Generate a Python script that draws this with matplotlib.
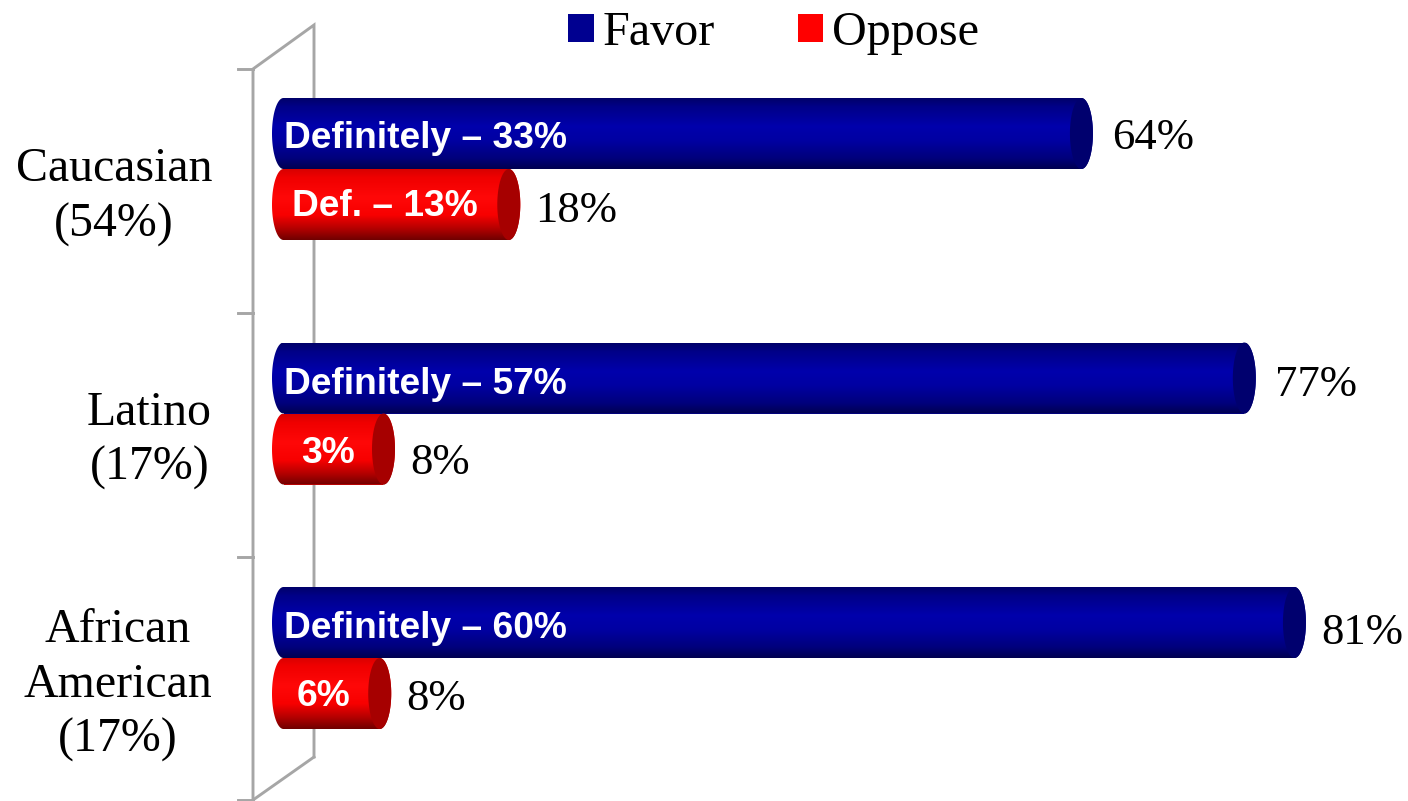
import numpy as np
import matplotlib
matplotlib.use("Agg")
import matplotlib.pyplot as plt
from matplotlib.patches import Patch, PathPatch
from matplotlib.path import Path
from matplotlib.colors import LinearSegmentedColormap
from matplotlib.transforms import IdentityTransform

categories = ["Caucasian\n(54%)", "Latino\n(17%)", "African\nAmerican\n(17%)"]
favor = [64.0, 77.0, 81.0]
oppose = [18.3, 8.3, 8.0]
favor_labels = ["64%", "77%", "81%"]
oppose_labels = ["18%", "8%", "8%"]
favor_inner = ["Definitely – 33%", "Definitely – 57%", "Definitely – 60%"]
oppose_inner = ["Def. – 13%", "3%", "6%"]
series_names = ["Favor", "Oppose"]

W, H = 1408, 801
PX_PER_UNIT = 12.53
X0_PX = 291.0
Y0_PX = 169.0
Y_STEP = 244.5
BAR_H = 71 / Y_STEP
CAP = 11.5 / PX_PER_UNIT
LEFT_OUT = (272 - X0_PX) / PX_PER_UNIT

SERIF = "Liberation Serif"
SANS = "Liberation Sans"
FS_SERIF = 32.2
FS_CAT = 34.5
FS_LEGEND = 34.7
FS_SANS = 26.75

fig = plt.figure(figsize=(W / 100, H / 100), dpi=100, facecolor="white")
ax = fig.add_axes([0, 0, 1, 1])
ax.axis("off")
xlim = (-X0_PX / PX_PER_UNIT, (W - X0_PX) / PX_PER_UNIT)
ylim = ((H - Y0_PX) / Y_STEP, -Y0_PX / Y_STEP)

blue_cm = LinearSegmentedColormap.from_list("b", [(0, "#00006a"), (0.12, "#000088"), (0.4, "#0000ac"),
                                                   (0.6, "#0000a2"), (0.85, "#00007c"), (1, "#000050")])
red_cm = LinearSegmentedColormap.from_list("r", [(0, "#d80000"), (0.12, "#f00000"), (0.4, "#ff0808"),
                                                  (0.65, "#f80000"), (0.85, "#b00000"), (1, "#700000")])
grad = np.linspace(0, 1, 128).reshape(-1, 1)


def capsule(x_end, yc):
    t = np.linspace(-np.pi / 2, np.pi / 2, 60)
    cx_r = x_end - CAP
    cx_l = LEFT_OUT + CAP
    xr = cx_r + CAP * np.cos(t)
    yr = yc + BAR_H / 2 * np.sin(t)
    xl = cx_l - CAP * np.cos(t[::-1])
    yl = yc + BAR_H / 2 * np.sin(t[::-1])
    return np.r_[xr, xl, xr[:1]], np.r_[yr, yl, yr[:1]]


def cylinder(x_end, yc, cmap, cap_color):
    left = LEFT_OUT + CAP
    ax.barh(yc, x_end - CAP - left, left=left, height=BAR_H, color=cmap(0.5), linewidth=0, zorder=3)
    xs, ys = capsule(x_end, yc)
    clip = PathPatch(Path(np.c_[xs, ys]), transform=ax.transData, facecolor="none", edgecolor="none")
    ax.add_patch(clip)
    im = ax.imshow(grad, cmap=cmap, extent=(LEFT_OUT, x_end, yc + BAR_H / 2, yc - BAR_H / 2),
                   aspect="auto", zorder=4, origin="upper", interpolation="bilinear")
    im.set_clip_path(clip)
    t = np.linspace(0, 2 * np.pi, 80)
    ax.fill(x_end - CAP + CAP * np.cos(t), yc + BAR_H / 2 * np.sin(t), color=cap_color, lw=0, zorder=5)


# Back wall of the 3-D plot frame (pixel geometry)
wall = "#a6a6a6"
def pxline(xs, ys):
    ax.plot(xs, [H - y for y in ys], color=wall, lw=2.1, transform=IdentityTransform(),
            solid_joinstyle="miter", zorder=1, clip_on=False)

pxline([253, 253, 314, 314], [801, 69, 25, 757])
pxline([253, 314], [800, 757])
for y in (69, 313, 557, 800):
    pxline([238, 253], [y, y])

fav_offsets = [19, 19, 15]
opp_offsets = [15, 15, 15]
fav_dy = [-31, -29, -25]
opp_dy = [42, 49, 41]
cat_dy = [28, 27, 27]
inner_fav_dy = [-31, -29, -29]
inner_opp_px = [385, 328, 324]
inner_opp_dy = [37, 40, 38]

for i, cat in enumerate(categories):
    cylinder(favor[i], i - BAR_H / 2, blue_cm, "#00006e")
    cylinder(oppose[i], i + BAR_H / 2, red_cm, "#a60000")

    ax.annotate(cat, (0, i), xycoords=("data", "data"), xytext=(212 - X0_PX, -cat_dy[i]), textcoords="offset pixels",
                ha="right", va="center", multialignment="center", family=SERIF, fontsize=FS_CAT,
                color="black", linespacing=1.33)
    ax.annotate(favor_labels[i], (favor[i], i), xytext=(fav_offsets[i], -fav_dy[i]), textcoords="offset pixels",
                ha="left", va="center", family=SERIF, fontsize=FS_SERIF, color="black", zorder=6)
    ax.annotate(oppose_labels[i], (oppose[i], i), xytext=(opp_offsets[i], -opp_dy[i]), textcoords="offset pixels",
                ha="left", va="center", family=SERIF, fontsize=FS_SERIF, color="black", zorder=6)
    ax.annotate(favor_inner[i], (0, i), xytext=(284 - X0_PX, -inner_fav_dy[i]), textcoords="offset pixels",
                ha="left", va="center", family=SANS, weight="bold", fontsize=FS_SANS, color="white", zorder=6)
    ax.annotate(oppose_inner[i], (0, i), xytext=(inner_opp_px[i] - X0_PX, -inner_opp_dy[i]), textcoords="offset pixels",
                ha="center", va="center", family=SANS, weight="bold", fontsize=FS_SANS, color="white", zorder=6)

ax.set_xlim(*xlim)
ax.set_ylim(*ylim)

handles = [Patch(facecolor="#000090", edgecolor="none", label=series_names[0]),
           Patch(facecolor="#ff0000", edgecolor="none", label=series_names[1])]
fig.legend(handles=handles, ncol=2, loc="upper left", bbox_to_anchor=(568 / W, 1 - 11 / H), frameon=False,
           prop={"family": SERIF, "size": FS_LEGEND}, handlelength=0.53, handleheight=0.53,
           handletextpad=0.185, columnspacing=1.72, borderpad=0, borderaxespad=0, labelcolor="black")

fig.savefig("out.png", dpi=100, facecolor="white")
